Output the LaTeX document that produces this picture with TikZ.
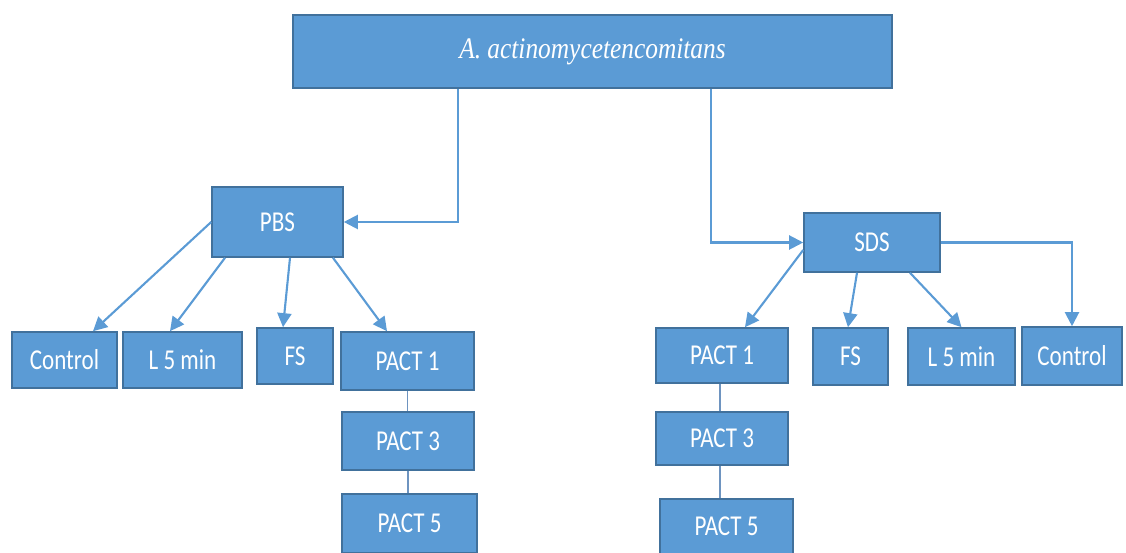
\documentclass[tikz,border=0pt]{standalone}
\usepackage{fontspec}
\setmainfont{Carlito}
\newfontfamily\boxfont[FakeStretch=0.8]{Carlito}
\newfontfamily\titlefont[FakeStretch=0.85]{Liberation Serif}
\usetikzlibrary{arrows.meta}
\definecolor{boxfill}{HTML}{5B9BD5}
\definecolor{boxline}{HTML}{41719C}
\definecolor{linkcol}{HTML}{6E94C0}
\begin{document}
\begin{tikzpicture}[x=0.02cm,y=-0.02cm,
  box/.style 2 args={draw=boxline,fill=boxfill,text=white,line width=0.9pt,
    minimum width=#1*0.02cm,minimum height=#2*0.02cm,inner sep=0pt,
    font=\boxfont\fontsize{16.4}{18}\selectfont},
  arr/.style={draw=boxfill,line width=1.2pt,-{Triangle[length=8pt,width=8pt]}},
  link/.style={draw=linkcol,line width=1pt}]
  \useasboundingbox (0,0) rectangle (1126,553);
  % root
  \node[box={599}{73},font=\titlefont\itshape\fontsize{17}{19}\selectfont] (root) at (592.5,51.5) {A. actinomycetencomitans};
  % second level
  \node[box={131}{70}] (pbs) at (277.5,222) {PBS};
  \node[box={136}{59}] (sds) at (872,242.5) {SDS};
  % PBS branch
  \node[box={105}{56}] (lctrl) at (64.5,360) {Control};
  \node[box={119}{56}] (ll5) at (182.5,360) {L 5 min};
  \node[box={76}{56}] (lfs) at (295,356) {FS};
  \node[box={133}{58}] (lp1) at (407.5,361) {PACT 1};
  \node[box={132}{58}] (lp3) at (408,441) {PACT 3};
  \node[box={135}{59}] (lp5) at (409.5,523.5) {PACT 5};
  % SDS branch
  \node[box={132}{55}] (rp1) at (722,355.5) {PACT 1};
  \node[box={132}{53}] (rp3) at (722,438.5) {PACT 3};
  \node[box={133}{55}] (rp5) at (726.5,526.5) {PACT 5};
  \node[box={75}{57}] (rfs) at (850.5,356.5) {FS};
  \node[box={107}{57}] (rl5) at (961.5,356.5) {L 5 min};
  \node[box={100}{58}] (rctrl) at (1072,356) {Control};
  % connectors
  \draw[arr] ([xshift=-2.69cm]root.south) |- (pbs.east);
  \draw[arr] ([xshift=2.37cm]root.south) |- (sds.west);
  \draw[arr] (pbs.west) -- ([xshift=0.57cm]lctrl.north);
  \draw[arr] ([xshift=-1.05cm]pbs.south) -- ([xshift=-0.25cm]ll5.north);
  \draw[arr] ([xshift=0.25cm]pbs.south) -- ([xshift=-0.24cm]lfs.north);
  \draw[arr] ([xshift=1.11cm]pbs.south) -- ([xshift=-0.41cm]lp1.north);
  \draw[arr] ([yshift=-0.15cm]sds.west) -- ([xshift=0.46cm]rp1.north);
  \draw[arr] ([xshift=-0.3cm]sds.south) -- ([xshift=-0.05cm]rfs.north);
  \draw[arr] ([xshift=0.76cm]sds.south) -- (rl5.north);
  \draw[arr] (sds.east) -| (rctrl.north);
  \draw[link] (lp1.south) -- (lp1.south |- lp3.north);
  \draw[link] (lp3.south) -- (lp3.south |- lp5.north);
  \draw[link] ([xshift=-0.04cm]rp1.south) -- ([xshift=-0.04cm]rp1.south |- rp3.north);
  \draw[link] ([xshift=-0.04cm]rp3.south) -- ([xshift=-0.04cm]rp3.south |- rp5.north);
\end{tikzpicture}
\end{document}
